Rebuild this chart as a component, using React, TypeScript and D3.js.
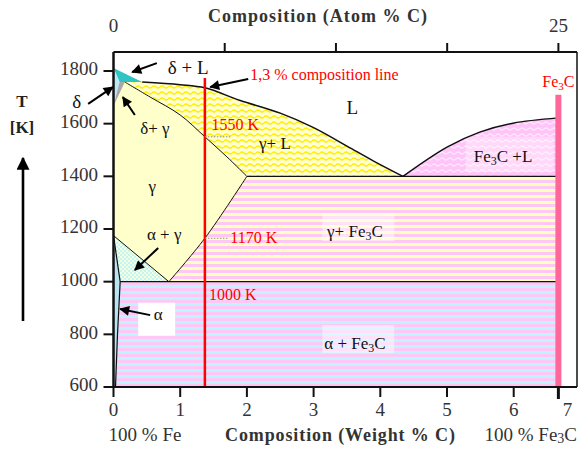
import React from "react";
import * as d3 from "d3";

// ---------- data ----------
const X_TICKS = [0, 1, 2, 3, 4, 5, 6, 7];
const Y_TICKS = [600, 800, 1000, 1200, 1400, 1600, 1800];
const ATOM_TICKS = [0, 6.25, 12.5, 18.75, 25];
const ATOM_LABELS = [0, 25];

// phase boundaries [wt% C, T (K)]
const liquidusGammaL = [[0.43, 1758], [1.0, 1748], [1.37, 1736], [1.9, 1688], [2.5, 1640], [3.0, 1585], [3.5, 1515], [3.9, 1458], [4.34, 1400]];
const solidusGamma = [[0.17, 1758], [0.55, 1701], [1.0, 1633], [1.37, 1550], [1.7, 1474], [2.0, 1400]];
const liquidusFe3C = [[4.34, 1400], [5.0, 1511], [5.49, 1568], [5.99, 1602], [6.67, 1622]];
const acmLine = [[0.83, 1000], [1.37, 1165], [2.0, 1400]];
const a3Line = [[0, 1175], [0.83, 1000]];
const alphaSolvus = [[0, 1175], [0.1, 1000], [0.06, 800], [0.03, 600]];
const deltaLRegion = [[0, 1811], [0.43, 1758], [0.09, 1758]];
const deltaRegion = [[0, 1811], [0.09, 1758], [0, 1667]];
const deltaGammaRegion = [[0.09, 1758], [0.17, 1758], [0, 1667]];
const EUTECTIC_T = 1400;
const EUTECTOID_T = 1000;
const FE3C_WT = 6.67;
const FE3C_TOP = 1710;
const COMP_LINE = 1.37;
const COMP_TOP = 1773;

// ---------- layout ----------
const W = 579, H = 449;
const LEFT = 113.5, TOP = 52, BOTTOM = 387, RIGHT = 577;
const x = d3.scaleLinear().domain([0, 7]).range([LEFT, 580.4]);
const y = d3.scaleLinear().domain([600, 1800]).range([BOTTOM, 71]);
const xa = d3.scaleLinear().domain([0, 25]).range([x(0), x(FE3C_WT)]);

type P = number[];
const lineLin = d3.line<P>().x(d => x(d[0])).y(d => y(d[1]));
const lineCurve = d3.line<P>().x(d => x(d[0])).y(d => y(d[1])).curve(d3.curveCatmullRom.alpha(0.5));

function seg(points: P[], curved: boolean, first: boolean) {
  const s = (curved ? lineCurve : lineLin)(points) || "";
  return first ? s : s.replace(/^M/, "L");
}
const rev = (a: P[]) => a.slice().reverse();
const poly = (pts: P[]) => (lineLin(pts) || "") + "Z";

const gammaLPath =
  seg(solidusGamma, true, true) +
  seg([[2.0, EUTECTIC_T], [4.34, EUTECTIC_T]], false, false) +
  seg(rev(liquidusGammaL), true, false) + "Z";

const gammaPath =
  seg([[0, 1667]], false, true) +
  seg(solidusGamma, true, false) +
  seg(rev(acmLine), true, false) +
  seg(rev(a3Line), false, false) + "Z";

const gammaFe3CPath =
  seg([[2.0, EUTECTIC_T], [FE3C_WT, EUTECTIC_T], [FE3C_WT, EUTECTOID_T]], false, true) +
  seg(acmLine, true, false) + "Z";

const fe3cLPath = seg(liquidusFe3C, true, true) + seg([[FE3C_WT, EUTECTIC_T]], false, false) + "Z";

const alphaFe3CPath =
  seg([[0.1, EUTECTOID_T], [FE3C_WT, EUTECTOID_T], [FE3C_WT, 600]], false, true) +
  seg(rev(alphaSolvus.slice(1)), false, false) + "Z";

const alphaGammaPath = poly([[0, 1175], [0.83, EUTECTOID_T], [0.1, EUTECTOID_T]]);
const alphaPath = seg(alphaSolvus, false, true) + seg([[0, 600]], false, false) + "Z";

const SERIF = "Liberation Serif, DejaVu Serif, Times New Roman, serif";

function Arrow({ from, to, w = 2 }: { from: P; to: P; w?: number }) {
  return (
    <line x1={from[0]} y1={from[1]} x2={to[0]} y2={to[1]} stroke="#000" strokeWidth={w} markerEnd="url(#ah)" />
  );
}

function T({ children, ...rest }: any) {
  return (
    <text dominantBaseline="middle" {...rest} style={{ fontFamily: SERIF }}>{children}</text>
  );
}

export default function App() {
  const lab = { fontSize: 17, fill: "#111", textAnchor: "middle" } as any;
  return (
    <svg width={W} height={H} style={{ position: "absolute", left: 0, top: 0, background: "#fff", fontFamily: SERIF }}>
      <defs>
        <marker id="ah" viewBox="0 0 10 10" refX="9" refY="5" markerWidth="5.5" markerHeight="5" orient="auto" markerUnits="strokeWidth">
          <path d="M0,0 L10,5 L0,10 Z" fill="#000" />
        </marker>
        <pattern id="waveY" width="8" height="6" patternUnits="userSpaceOnUse">
          <rect width="8" height="6" fill="#FFFFD0" />
          <path d="M0,3 Q2,1 4,3 T8,3" fill="none" stroke="#FFEE00" strokeWidth="1.3" />
        </pattern>
        <pattern id="waveP" width="8" height="6" patternUnits="userSpaceOnUse">
          <rect width="8" height="6" fill="#FFC4F8" />
          <path d="M0,3 Q2,1 4,3 T8,3" fill="none" stroke="#FFE8FF" strokeWidth="1.2" />
        </pattern>
        <pattern id="stripeYP" width="6" height="6" patternUnits="userSpaceOnUse">
          <rect width="6" height="3" fill="#FFC8F4" />
          <rect y="3" width="6" height="3" fill="#FFFFC0" />
        </pattern>
        <pattern id="stripeCP" width="6" height="6" patternUnits="userSpaceOnUse">
          <rect width="6" height="3" fill="#FFC8F4" />
          <rect y="3" width="6" height="3" fill="#C0F2FF" />
        </pattern>
        <pattern id="checkC" width="4" height="4" patternUnits="userSpaceOnUse">
          <rect width="4" height="4" fill="#C4F4F4" />
          <rect width="2" height="2" fill="#F4FFE0" />
          <rect x="2" y="2" width="2" height="2" fill="#F4FFE0" />
        </pattern>
      </defs>

      {/* regions */}
      <path d={gammaLPath} fill="url(#waveY)" />
      <path d={gammaPath} fill="#FFFFCC" />
      <path d={gammaFe3CPath} fill="url(#stripeYP)" />
      <path d={fe3cLPath} fill="url(#waveP)" />
      <path d={alphaFe3CPath} fill="url(#stripeCP)" />
      <path d={alphaGammaPath} fill="url(#checkC)" />
      <path d={alphaPath} fill="#B8E4F4" />
      <path d={poly(deltaLRegion)} fill="#2EC4C4" />
      <path d={poly(deltaRegion)} fill="#BDE6F7" />
      <path d={poly(deltaGammaRegion)} fill="#A8A8A8" />

      {/* label backdrops */}
      <rect x={x(3.13)} y={y(1260)} width={72} height={28} fill="#fff" fillOpacity={0.45} />
      <rect x={x(3.13)} y={y(835)} width={72} height={28} fill="#fff" fillOpacity={0.45} />
      <rect x={x(5.28)} y={y(1550)} width={88} height={35} fill="#fff" fillOpacity={0.35} />
      <rect x={x(0.37)} y={y(920)} width={37} height={33} fill="#fff" />

      {/* boundaries */}
      <g fill="none" stroke="#111" strokeWidth={1.3}>
        <path d={lineCurve(liquidusGammaL) || ""} strokeWidth={1.5} />
        <path d={lineCurve(solidusGamma) || ""} strokeWidth={1} />
        <path d={lineCurve(liquidusFe3C) || ""} strokeWidth={1.5} />
        <path d={lineCurve(acmLine) || ""} strokeWidth={1} />
        <path d={lineLin(a3Line) || ""} strokeWidth={1} />
        <path d={lineLin(alphaSolvus) || ""} strokeWidth={1.2} />
        <line x1={x(2.0)} x2={x(FE3C_WT)} y1={y(EUTECTIC_T)} y2={y(EUTECTIC_T)} />
        <line x1={x(0.1)} x2={x(FE3C_WT)} y1={y(EUTECTOID_T)} y2={y(EUTECTOID_T)} />
      </g>

      {/* Fe3C bar & composition line */}
      <line x1={x(FE3C_WT)} x2={x(FE3C_WT)} y1={y(FE3C_TOP)} y2={BOTTOM} stroke="#FF6699" strokeWidth={6} />
      <line x1={x(COMP_LINE)} x2={x(COMP_LINE)} y1={y(COMP_TOP)} y2={BOTTOM} stroke="#FF0000" strokeWidth={2.5} />
      <line x1={x(COMP_LINE)} x2={x(1.75)} y1={y(1550)} y2={y(1550)} stroke="#888" strokeWidth={1} strokeDasharray="1.5,1.5" />
      <line x1={x(COMP_LINE)} x2={x(1.71)} y1={y(1165)} y2={y(1165)} stroke="#888" strokeWidth={1} strokeDasharray="1.5,1.5" />

      {/* frame */}
      <line x1={LEFT} x2={RIGHT} y1={TOP} y2={TOP} stroke="#111" strokeWidth={2} />
      <line x1={RIGHT} x2={RIGHT} y1={TOP} y2={BOTTOM} stroke="#111" strokeWidth={1.5} />
      <line x1={LEFT} x2={RIGHT} y1={BOTTOM} y2={BOTTOM} stroke="#111" strokeWidth={2} />
      <line x1={LEFT} x2={LEFT} y1={TOP} y2={BOTTOM + 1} stroke="#111" strokeWidth={2.5} />

      {/* y axis */}
      {Y_TICKS.map(v => (
        <g key={v}>
          <line x1={LEFT - 10} x2={LEFT} y1={y(v)} y2={y(v)} stroke="#111" strokeWidth={2} />
          <T x={98} y={y(v)} textAnchor="end" fontSize={19} fill="#333">{v}</T>
        </g>
      ))}
      {/* bottom axis */}
      {X_TICKS.map(v => (
        <g key={v}>
          {v < 7 && <line x1={x(v)} x2={x(v)} y1={BOTTOM} y2={BOTTOM + 10} stroke="#111" strokeWidth={2} />}
          <T x={v === 7 ? x(v) - 13 : x(v)} y={412} textAnchor="middle" fontSize={19} fill="#333">{v}</T>
        </g>
      ))}
      <line x1={x(FE3C_WT)} x2={x(FE3C_WT)} y1={BOTTOM} y2={BOTTOM + 12} stroke="#111" strokeWidth={3} />
      {/* top axis */}
      {ATOM_TICKS.slice(1).map(v => (
        <line key={v} x1={xa(v)} x2={xa(v)} y1={TOP - 9} y2={TOP} stroke="#111" strokeWidth={2} />
      ))}
      {ATOM_LABELS.map(v => (
        <T key={v} x={xa(v)} y={28} textAnchor="middle" fontSize={19} fill="#333">{v}</T>
      ))}
      <T x={208} y={18} fontSize={18} fontWeight="bold" fill="#333" textLength={219} lengthAdjust="spacing">Composition  (Atom % C)</T>
      <T x={225} y={437} fontSize={18} fontWeight="bold" fill="#333" textLength={230} lengthAdjust="spacing">Composition (Weight % C)</T>
      <T x={145} y={437} textAnchor="middle" fontSize={19} fill="#333">100 % Fe</T>
      <T x={577} y={437} textAnchor="end" fontSize={19} fill="#333">100 % Fe<tspan fontSize={14} dy={3}>3</tspan><tspan dy={-3}>C</tspan></T>

      {/* T [K] */}
      <T x={22} y={103} textAnchor="middle" fontSize={17} fontWeight="bold" fill="#222">T</T>
      <T x={22} y={129} textAnchor="middle" fontSize={17} fontWeight="bold" fill="#222">[K]</T>
      <Arrow from={[23, 321]} to={[23, 158]} w={2.6} />

      {/* phase labels */}
      <T {...lab} x={x(1.12)} y={y(1807)} fontSize={19}>δ + L</T>
      <Arrow from={[x(0.65), y(1830)]} to={[x(0.28), y(1796)]} />
      <T {...lab} x={x(-0.55)} y={y(1675)} fontSize={19}>δ</T>
      <Arrow from={[x(-0.38), y(1675)]} to={[x(-0.01), y(1739)]} />
      <T {...lab} x={x(0.62)} y={y(1576)}>δ+ γ</T>
      <Arrow from={[x(0.32), y(1633)]} to={[x(0.14), y(1701)]} />
      <T {...lab} x={x(0.58)} y={y(1356)}>γ</T>
      <T {...lab} x={x(0.76)} y={y(1173)}>α + γ</T>
      <Arrow from={[x(0.67), y(1128)]} to={[x(0.32), y(1044)]} />
      <T {...lab} x={x(0.67)} y={y(870)}>α</T>
      <Arrow from={[x(0.55), y(873)]} to={[x(0.1), y(896)]} />
      <T {...lab} x={x(3.58)} y={y(1652)} fontSize={19}>L</T>
      <T {...lab} x={x(2.42)} y={y(1519)}>γ+ L</T>
      <T {...lab} x={x(5.84)} y={y(1470)}>
        Fe<tspan fontSize={12} dy={4}>3</tspan><tspan dy={-4}>C +L</tspan>
      </T>
      <T {...lab} x={x(3.62)} y={y(1185)}>
        γ+ Fe<tspan fontSize={12} dy={4}>3</tspan><tspan dy={-4}>C</tspan>
      </T>
      <T {...lab} x={x(3.62)} y={y(760)}>
        α + Fe<tspan fontSize={12} dy={4}>3</tspan><tspan dy={-4}>C</tspan>
      </T>

      {/* red annotations */}
      <T x={x(FE3C_WT)} y={y(1754)} textAnchor="middle" fontSize={16} fill="#FF0000">
        Fe<tspan fontSize={11} dy={4}>3</tspan><tspan dy={-4}>C</tspan>
      </T>
      <T x={x(2.05)} y={y(1781)} fontSize={16} fill="#FF0000">1,3 % composition line</T>
      <Arrow from={[x(2.02), y(1770)]} to={[x(1.45), y(1739)]} />
      <T x={x(1.47)} y={y(1590)} fontSize={16} fill="#FF0000">1550 K</T>
      <T x={x(1.75)} y={y(1160)} fontSize={16} fill="#FF0000">1170 K</T>
      <T x={x(1.43)} y={y(945)} fontSize={16} fill="#FF0000">1000 K</T>
    </svg>
  );
}
